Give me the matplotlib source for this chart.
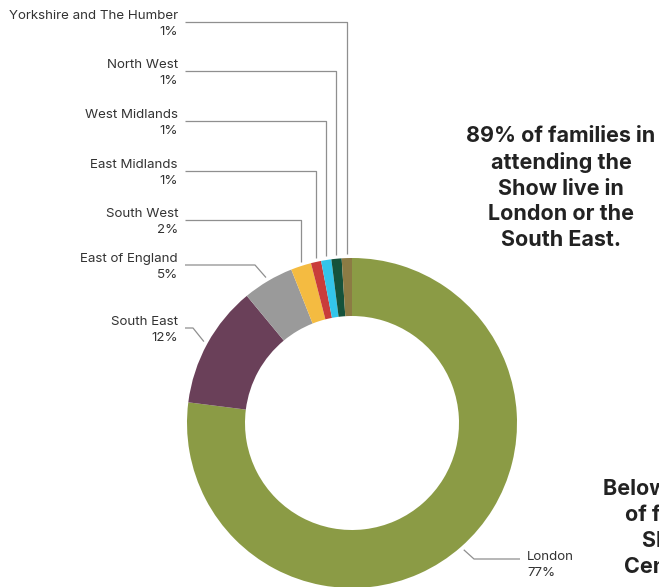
import numpy as np
import matplotlib

matplotlib.use("Agg")
import matplotlib.pyplot as plt

# -----------------------------
# Data
# -----------------------------
regions = [
    "London",
    "South East",
    "East of England",
    "South West",
    "East Midlands",
    "West Midlands",
    "North West",
    "Yorkshire and The Humber",
]
shares = [77, 12, 5, 2, 1, 1, 1, 1]
colours = [
    "#8b9b45",
    "#6a4059",
    "#9a9a9a",
    "#f4bb41",
    "#c93c3a",
    "#33c5ea",
    "#15523b",
    "#8c7b44",
]

# label block centre (pixels from top) and leader style
label_y = {
    "Yorkshire and The Humber": 22,
    "North West": 71,
    "West Midlands": 121,
    "East Midlands": 171,
    "South West": 220,
    "East of England": 265,
    "South East": 328,
    "London": 563,
}
elbow_x = {"East of England": 255, "South East": 193}

W, H = 659, 587
plt.rcParams["font.family"] = ["Inter", "DejaVu Sans"]

fig = plt.figure(figsize=(W / 100, H / 100), dpi=100)
ax = fig.add_axes([0, 0, 1, 1])

cx, cy = 352, H - 423
R, ring = 165, 58

wedges, _ = ax.pie(
    shares,
    colors=colours,
    startangle=90,
    counterclock=False,
    radius=R,
    center=(cx, cy),
    wedgeprops=dict(width=ring, linewidth=0),
    frame=True,
)
ax.set_xlim(0, W)
ax.set_ylim(0, H)
ax.set_aspect("equal")
ax.axis("off")

line_kw = dict(color="#8f8f8f", lw=0.9, solid_capstyle="butt")
text_kw = dict(fontsize=9.6, color="#333333", linespacing=1.45, va="center")

# -----------------------------
# Leader lines and labels
# -----------------------------
for name, share, w in zip(regions, shares, wedges):
    mid = np.deg2rad((w.theta1 + w.theta2) / 2)
    ty = H - label_y[name]
    label = f"{name}\n{share}%"

    if name == "London":
        ex, ey = cx + (R + 4) * np.cos(mid), cy + (R + 4) * np.sin(mid)
        ax.plot([ex, 474, 520], [ey, ty + 4, ty + 4], **line_kw)
        ax.text(527, ty - 2, label, ha="left", multialignment="left", **text_kw)
        continue

    ax.text(178, ty - 2, label, ha="right", multialignment="right", **text_kw)
    if name in elbow_x:
        ex, ey = cx + (R + 4) * np.cos(mid), cy + (R + 4) * np.sin(mid)
        ax.plot([185, elbow_x[name], ex], [ty, ty, ey], **line_kw)
    else:
        vx = cx + R * np.cos(mid)
        vy = cy + np.sqrt(R ** 2 - (vx - cx) ** 2) + 4
        ax.plot([185, vx, vx], [ty, ty, vy], **line_kw)

# -----------------------------
# Call-out text
# -----------------------------
callout_kw = dict(
    ha="center", va="center", multialignment="center",
    fontsize=15.5, fontweight="bold", color="#222222", linespacing=1.36,
)
ax.text(
    561, H - 188,
    "89% of families in\nattending the\nShow live in\nLondon or the\nSouth East.",
    **callout_kw,
)
ax.text(
    712, H - 528,
    "Below 5% of the rest\nof families at the\nShow lived in\nCentral England.",
    **callout_kw,
)

fig.savefig("out.png", dpi=100)
plt.close(fig)
